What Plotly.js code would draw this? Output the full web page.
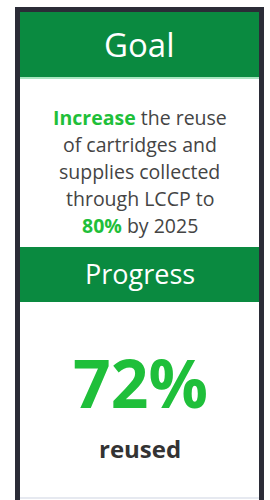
<!DOCTYPE html>
<html>
<head>
<meta charset="utf-8">
<script src="https://cdn.plot.ly/plotly-3.0.1.min.js"></script>
<style>html,body{margin:0;padding:0;background:#fff;}#chart{width:270px;height:500px;}</style>
</head>
<body>
<div id="chart"></div>
<script>
// Data
var sectionTitles = ["Goal", "Progress"];
var goalVerb = "Increase";
var goalLines = ["the reuse", "of cartridges and", "supplies collected", "through LCCP to"];
var goalTarget = [80];          // percent
var goalYear = [2025];
var progressValue = [72];       // percent
var progressLabel = ["reused"];

var darkFrame = "#2b2c37";
var headerGreen = "#0a8a40";
var brightGreen = "#1fbf3a";
var bodyGray = "#444444";
var font = "'Open Sans', Lato, sans-serif";

var shapes = [
  {type:"rect", xref:"x", yref:"y", x0:15, x1:264, y0:7, y1:500, fillcolor:darkFrame, line:{width:0}, layer:"below"},
  {type:"rect", xref:"x", yref:"y", x0:20, x1:259, y0:12, y1:500, fillcolor:"#ffffff", line:{width:0}, layer:"below"},
  {type:"rect", xref:"x", yref:"y", x0:20, x1:259, y0:12, y1:77, fillcolor:headerGreen, line:{width:0}, layer:"below"},
  {type:"rect", xref:"x", yref:"y", x0:20, x1:259, y0:77, y1:79, fillcolor:"#a8e6c0", line:{width:0}, layer:"below"},
  {type:"rect", xref:"x", yref:"y", x0:20, x1:259, y0:247, y1:302, fillcolor:headerGreen, line:{width:0}, layer:"below"},
  {type:"rect", xref:"x", yref:"y", x0:20, x1:259, y0:497, y1:499, fillcolor:"#e6e9f0", line:{width:0}, layer:"below"}
];

var annotations = [];
function addText(x, y, text, size, color){
  annotations.push({xref:"x", yref:"y", x:x, y:y, text:text, showarrow:false,
    xanchor:"center", yanchor:"middle", font:{family:font, size:size, color:color}});
}
addText(139.5, 44, sectionTitles[0], 33, "#ffffff");
var bodyLines = [
  "<b><span style='color:" + brightGreen + "'>" + goalVerb + "</span></b> " + goalLines[0],
  goalLines[1], goalLines[2], goalLines[3],
  "<b><span style='color:" + brightGreen + "'>" + goalTarget[0] + "%</span></b> by " + goalYear[0]
];
var lineY = [117, 144, 171, 198, 225];
for (var i = 0; i < bodyLines.length; i++) addText(139.5, lineY[i], bodyLines[i], 19.5, bodyGray);
addText(139.5, 273, sectionTitles[1], 27, "#ffffff");
addText(140, 382, "<b>" + progressValue[0] + "%</b>", 66, brightGreen);
addText(139.5, 448, "<b>" + progressLabel[0] + "</b>", 24, "#333333");

var layout = {
  width:270, height:500, margin:{l:0, r:0, t:0, b:0},
  paper_bgcolor:"#ffffff", plot_bgcolor:"#ffffff",
  xaxis:{range:[0,270], visible:false, fixedrange:true},
  yaxis:{range:[500,0], visible:false, fixedrange:true},
  shapes:shapes, annotations:annotations, showlegend:false
};
Plotly.newPlot("chart", [{x:[], y:[], type:"scatter"}], layout, {displayModeBar:false, staticPlot:true});
</script>
</body>
</html>
